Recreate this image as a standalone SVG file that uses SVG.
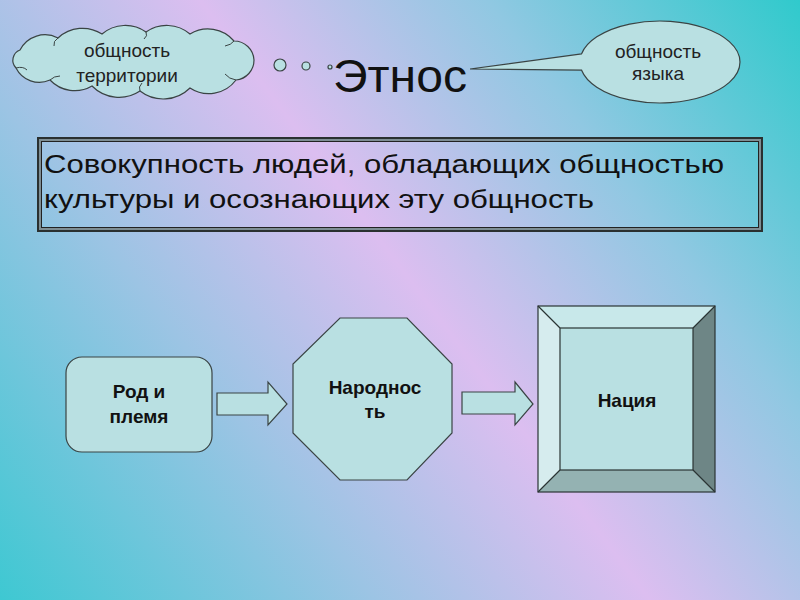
<svg xmlns="http://www.w3.org/2000/svg" width="800" height="600" viewBox="0 0 800 600">
<defs>
<linearGradient id="bg" gradientUnits="userSpaceOnUse" x1="0" y1="600" x2="800" y2="0">
<stop offset="0" stop-color="#3ec8d2"/>
<stop offset="0.3" stop-color="#9cc4e4"/>
<stop offset="0.52" stop-color="#dcbef0"/>
<stop offset="0.75" stop-color="#90c8e2"/>
<stop offset="1" stop-color="#30cacc"/>
</linearGradient>
</defs>
<style>
.shape{fill:#b9e0e2;stroke:#3a4444;stroke-width:1.2}
.small{font-family:"Liberation Sans",Arial,sans-serif;font-size:19px;fill:#222;text-anchor:middle}
.node{font-family:"Liberation Sans",Arial,sans-serif;font-size:19px;font-weight:bold;fill:#111;text-anchor:middle}
.big{font-family:"Liberation Sans",Arial,sans-serif;fill:#111}
.frame{fill:none}
</style>
<rect x="0" y="0" width="800" height="600" fill="url(#bg)"/>

<g id="cloud-territory">
<path class="shape" d="M20,50 A28,28 0 0 1 58,38 A36,36 0 0 1 102,34 A36,36 0 0 1 146,32 A36,36 0 0 1 190,34 A34,34 0 0 1 234,41 A20,20 0 0 1 254,60 A20,20 0 0 1 236,80 A34,34 0 0 1 190,88 A38,38 0 0 1 140,91 A38,38 0 0 1 92,86 A34,34 0 0 1 50,80 A26,26 0 0 1 16,68 A11,11 0 0 1 20,50 Z"/>
<path d="M58,38 q-5,3 -4,8 M146,32 q2,4 -2,7 M234,41 q-3,4 -9,5 M236,80 q-7,-1 -11,-6 M140,91 q-2,-4 2,-8 M50,80 q4,-4 10,-4 M16,68 q7,-2 11,2" fill="none" stroke="#3a4444" stroke-width="1"/>
<text class="small" x="127" y="57">общность</text>
<text class="small" x="127" y="82">территории</text>
</g>

<g id="thought-bubbles">
<circle class="shape" cx="280" cy="65" r="6"/>
<circle class="shape" cx="306" cy="66" r="4"/>
<circle class="shape" cx="330" cy="67" r="2"/>
</g>

<g id="title">
<text class="big" x="333" y="92" font-size="47" textLength="134" lengthAdjust="spacingAndGlyphs">Этнос</text>
</g>

<g id="callout-language">
<path class="shape" d="M581.6,53.8 L470,69 L581.6,70.2 A80,41 0 1 0 581.6,53.8 Z"/>
<text class="small" x="658" y="58">общность</text>
<text class="small" x="658" y="80">языка</text>
</g>

<g id="definition">
<rect class="frame" x="38" y="138" width="724" height="93" stroke="#2a3030" stroke-width="2"/>
<rect class="frame" x="40" y="140" width="720" height="89" stroke="#7e8e94" stroke-width="2"/>
<rect class="frame" x="41.5" y="141.5" width="717" height="86" stroke="#222" stroke-width="1"/>
<text class="big" x="44" y="173" font-size="26" textLength="680" lengthAdjust="spacingAndGlyphs">Совокупность людей, обладающих общностью</text>
<text class="big" x="44" y="208" font-size="26" textLength="550" lengthAdjust="spacingAndGlyphs">культуры и осознающих эту общность</text>
</g>

<g id="rod-plemya">
<rect class="shape" x="66" y="357" width="146" height="95" rx="16" ry="16"/>
<text class="node" x="139" y="398">Род и</text>
<text class="node" x="139" y="423">племя</text>
</g>

<g id="narodnost">
<polygon class="shape" points="340,318 407,318 452,364 452,433 407,480 340,480 293,433 293,364"/>
<text class="node" x="375" y="394">Народнос</text>
<text class="node" x="375" y="418">ть</text>
</g>

<g id="naciya">
<rect x="538" y="306" width="177" height="186" fill="#b9e0e2"/>
<polygon points="538,306 715,306 693,328 560,328" fill="#c8e8ea"/>
<polygon points="538,306 560,328 560,470 538,492" fill="#d6ecee"/>
<polygon points="715,306 715,492 693,470 693,328" fill="#6e8686"/>
<polygon points="538,492 560,470 693,470 715,492" fill="#94b2b2"/>
<rect x="538" y="306" width="177" height="186" fill="none" stroke="#2a3434" stroke-width="1.2"/>
<rect x="560" y="328" width="133" height="142" fill="none" stroke="#2a3434" stroke-width="1.2"/>
<path d="M538,306 L560,328 M715,306 L693,328 M538,492 L560,470 M715,492 L693,470" stroke="#2a3434" stroke-width="1.2"/>
<text class="node" x="627" y="407">Нация</text>
</g>

<g id="connectors">
<polygon class="shape" points="217,393 268,393 268,382 287,404 268,425 268,415 217,415"/>
<polygon class="shape" points="462,392 515,392 515,382 533,404 515,425 515,414 462,414"/>
</g>
</svg>
